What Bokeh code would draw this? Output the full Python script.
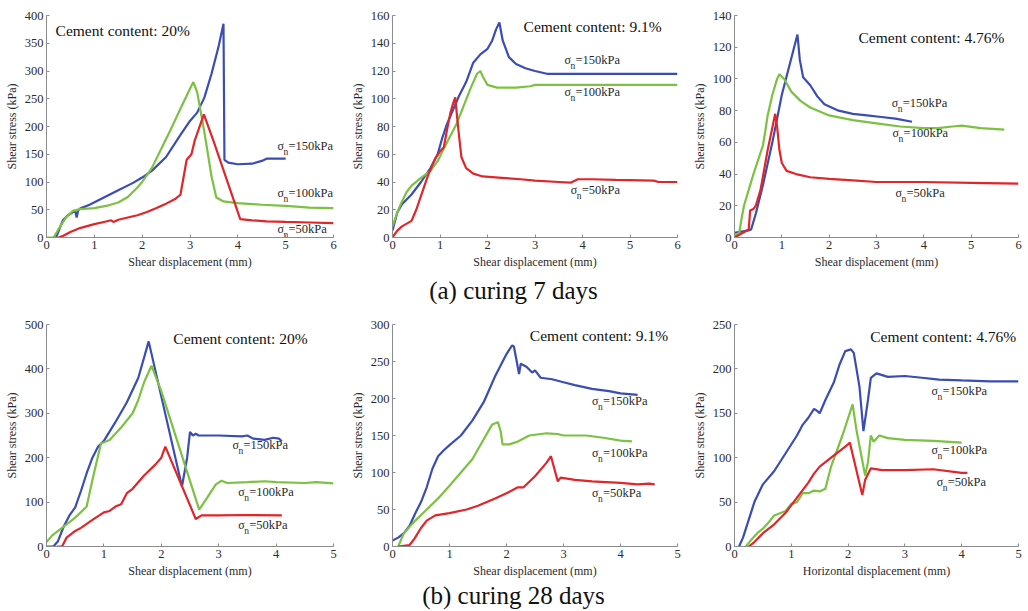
from bokeh.plotting import figure
from bokeh.layouts import column, row
from bokeh.models import Range1d, FixedTicker
from bokeh.core.properties import value
from bokeh.embed import file_html
from bokeh.resources import INLINE

# ---------------- data ----------------
# (a) curing 7 days, cement 20%
a20_x150 = [0.2, 0.3, 0.35, 0.45, 0.6, 0.63, 0.66, 0.7, 0.9, 1.2, 1.5, 1.8, 2.0, 2.2, 2.5, 2.8, 3.0, 3.15, 3.3, 3.45, 3.6, 3.7, 3.72, 3.8, 4.0, 4.3, 4.5, 4.6, 5.0]
a20_y150 = [0, 22, 32, 40, 48, 36, 48, 52, 59, 72, 85, 98, 108, 120, 145, 185, 210, 225, 252, 295, 345, 385, 140, 135, 132, 133, 138, 142, 142]
a20_x100 = [0, 0.15, 0.25, 0.4, 0.55, 0.7, 1.0, 1.3, 1.5, 1.7, 1.9, 2.0, 2.2, 2.4, 2.6, 2.8, 3.0, 3.07, 3.15, 3.3, 3.45, 3.55, 3.7, 4.0, 4.5, 5.0, 5.5, 6.0]
a20_y100 = [0, 0, 15, 35, 48, 51, 53, 58, 63, 73, 90, 100, 125, 160, 195, 232, 268, 280, 262, 190, 110, 72, 65, 62, 59, 57, 54, 53]
a20_x50 = [0.25, 0.35, 0.5, 0.7, 1.0, 1.2, 1.35, 1.4, 1.5, 1.7, 1.9, 2.1, 2.3, 2.5, 2.7, 2.8, 2.93, 3.03, 3.1, 3.29, 3.5, 3.8, 4.05, 4.3, 4.6, 5.0, 5.5, 6.0]
a20_y50 = [0, 3, 10, 17, 24, 28, 31, 28, 32, 36, 40, 46, 53, 61, 70, 77, 140, 150, 175, 222, 172, 96, 33, 31, 29, 28, 27, 26]

# (a) cement 9.1%
a91_x150 = [0, 0.1, 0.2, 0.4, 0.6, 0.8, 0.95, 1.05, 1.15, 1.25, 1.4, 1.55, 1.7, 1.85, 2.0, 2.1, 2.18, 2.25, 2.32, 2.45, 2.6, 2.8, 3.0, 3.25, 4.0, 5.0, 6.0]
a91_y150 = [5, 18, 24, 31, 40, 50, 60, 72, 82, 90, 102, 112, 126, 132, 136, 142, 150, 155, 142, 130, 125, 122, 120, 118, 118, 118, 118]
a91_x100 = [0, 0.1, 0.2, 0.3, 0.42, 0.6, 0.8, 0.95, 1.05, 1.2, 1.35, 1.5, 1.65, 1.78, 1.85, 1.9, 2.0, 2.2, 2.6, 2.9, 3.0, 4.0, 5.0, 6.0]
a91_y100 = [8, 18, 26, 33, 38, 43, 48, 55, 62, 72, 82, 95, 108, 118, 120, 116, 110, 108, 108, 109, 110, 110, 110, 110]
a91_x50 = [0, 0.1, 0.2, 0.4, 0.5, 0.6, 0.75, 0.9, 1.0, 1.08, 1.15, 1.22, 1.28, 1.32, 1.38, 1.45, 1.55, 1.7, 1.9, 2.3, 2.7, 3.0, 3.5, 3.75, 3.9, 4.2, 4.7, 5.5, 5.6, 6.0]
a91_y50 = [0, 5, 8, 12, 20, 30, 45, 57, 62, 65, 78, 90, 97, 101, 80, 58, 50, 46, 44, 43, 42, 41, 40, 39.5, 42, 42, 41.5, 41, 40, 40]

# (a) cement 4.76%
a476_x150 = [0, 0.3, 0.35, 0.45, 0.6, 0.8, 1.0, 1.2, 1.33, 1.38, 1.45, 1.6, 1.75, 1.9, 2.2, 2.5, 2.8, 3.1, 3.4, 3.75]
a476_y150 = [3, 4.5, 5, 15, 33, 60, 90, 113, 128, 112, 101, 96, 89, 84, 80, 78, 77, 76, 75, 73]
a476_x100 = [0, 0.1, 0.15, 0.2, 0.3, 0.4, 0.5, 0.6, 0.65, 0.7, 0.8, 0.9, 0.95, 1.05, 1.2, 1.4, 1.6, 2.0, 2.5, 3.0, 3.5, 4.0, 4.3, 4.6, 4.8, 5.2, 5.7]
a476_y100 = [1, 3, 12, 20, 30, 40, 49, 58, 67, 77, 90, 100, 103, 100, 92, 86, 82, 77, 74, 72, 70, 69, 69, 70, 70.5, 69, 68]
a476_x50 = [0, 0.3, 0.33, 0.4, 0.45, 0.55, 0.7, 0.86, 0.9, 0.95, 1.0, 1.1, 1.3, 1.6, 2.0, 2.5, 3.0, 4.0, 5.0, 6.0]
a476_y50 = [0, 5, 17, 18, 20, 30, 55, 78, 70, 55, 47, 42, 40, 38, 37, 36, 35, 35, 34.5, 34]

# (b) curing 28 days, cement 20%
b20_x150 = [0, 0.12, 0.2, 0.3, 0.4, 0.5, 0.6, 0.7, 0.8, 0.9, 1.0, 1.2, 1.4, 1.6, 1.78, 2.36, 2.45, 2.5, 2.55, 2.6, 2.65, 3.0, 3.4, 3.5, 3.6, 3.8, 3.95, 4.05, 4.1]
b20_y150 = [0, 0, 12, 45, 70, 88, 125, 165, 200, 225, 238, 280, 325, 380, 462, 135, 200, 258, 250, 254, 250, 250, 248, 250, 243, 240, 245, 243, 237]
b20_x100 = [0, 0.1, 0.3, 0.5, 0.7, 0.8, 0.9, 0.95, 1.1, 1.3, 1.5, 1.6, 1.7, 1.83, 2.0, 2.66, 2.8, 2.95, 3.05, 3.15, 3.5, 3.8, 4.0, 4.5, 4.7, 5.0]
b20_y100 = [10, 25, 45, 65, 90, 150, 205, 232, 240, 268, 300, 330, 370, 407, 350, 83, 110, 140, 148, 143, 145, 147, 145, 143, 145, 142]
b20_x50 = [0.18, 0.27, 0.35, 0.5, 0.6, 0.8, 1.0, 1.1, 1.2, 1.3, 1.4, 1.5, 1.7, 1.9, 2.0, 2.07, 2.6, 2.7, 3.0, 3.5, 4.1]
b20_y50 = [0, 0, 20, 35, 42, 60, 77, 80, 90, 95, 120, 130, 160, 185, 200, 225, 62, 70, 70, 71, 70]

# (b) cement 9.1%
b91_x150 = [0, 0.1, 0.2, 0.3, 0.4, 0.5, 0.6, 0.7, 0.8, 0.9, 1.0, 1.2, 1.4, 1.6, 1.8, 2.0, 2.1, 2.13, 2.18, 2.22, 2.25, 2.35, 2.45, 2.5, 2.6, 2.8, 3.0, 3.2, 3.5, 3.8, 4.0, 4.3]
b91_y150 = [8, 12, 18, 28, 45, 60, 80, 105, 122, 130, 137, 150, 170, 195, 230, 260, 272, 270, 250, 233, 247, 243, 235, 238, 228, 226, 222, 218, 213, 210, 207, 205]
b91_x100 = [0.1, 0.2, 0.4, 0.6, 0.8, 1.0, 1.2, 1.4, 1.6, 1.75, 1.85, 1.9, 1.93, 2.05, 2.2, 2.4, 2.7, 2.9, 3.0, 3.4, 3.7, 4.0, 4.2]
b91_y100 = [0, 18, 35, 50, 65, 82, 100, 118, 145, 165, 168, 155, 138, 138, 142, 150, 153, 152, 150, 150, 147, 143, 142]
b91_x50 = [0.1, 0.3, 0.38, 0.5, 0.6, 0.75, 1.0, 1.3, 1.5, 1.8, 2.0, 2.2, 2.3, 2.5, 2.7, 2.78, 2.9, 2.95, 3.2, 3.5, 4.0, 4.3, 4.5, 4.6]
b91_y50 = [0, 2, 10, 25, 35, 42, 45, 50, 55, 65, 72, 80, 80, 95, 113, 122, 88, 93, 90, 88, 86, 84, 85, 84]

# (b) cement 4.76%
b476_x150 = [0.08, 0.15, 0.25, 0.35, 0.5, 0.7, 0.9, 1.1, 1.2, 1.3, 1.4, 1.45, 1.5, 1.6, 1.75, 1.85, 1.95, 2.05, 2.1, 2.2, 2.27, 2.35, 2.4, 2.5, 2.6, 2.7, 3.0, 3.3, 3.6, 4.0, 4.5, 5.0]
b476_y150 = [0, 10, 30, 50, 70, 85, 105, 125, 137, 145, 155, 153, 150, 165, 185, 205, 220, 222, 218, 180, 130, 165, 190, 195, 193, 191, 192, 190, 188, 187, 186, 186]
b476_x100 = [0.2, 0.3, 0.4, 0.5, 0.6, 0.7, 0.9, 1.0, 1.1, 1.2, 1.3, 1.4, 1.5, 1.6, 1.7, 1.9, 2.08, 2.15, 2.3, 2.35, 2.4, 2.45, 2.55, 2.7, 3.0, 3.5, 4.0]
b476_y100 = [0, 8, 15, 20, 27, 35, 40, 48, 50, 60, 60, 63, 62, 65, 90, 125, 160, 130, 80, 95, 125, 118, 125, 122, 120, 119, 117]
b476_x50 = [0.25, 0.35, 0.5, 0.7, 0.9, 1.1, 1.3, 1.4, 1.5, 1.7, 1.9, 2.0, 2.03, 2.25, 2.3, 2.4, 2.6, 3.0, 3.5, 4.0, 4.1]
b476_y50 = [0, 5, 15, 25, 38, 55, 72, 82, 90, 100, 110, 115, 117, 58, 75, 88, 86, 86, 87, 83, 83]

stress_labels = ["=150kPa", "=100kPa", "=50kPa"]
titles = ["Cement content: 20%", "Cement content: 9.1%", "Cement content: 4.76%"]
captions = ["(a) curing 7 days", "(b) curing 28 days"]

# ---------------- styling ----------------
BLUE = "#3a4db3"
GREEN = "#7cc142"
RED = "#e0252b"
FONT = "Liberation Serif"
AXIS_GREY = "#8c8c8c"
TEXT = "#2a2a2a"


def make_panel(width, height, bl, br, bt, bb, xmax, ymax, ystep, xlabel, series,
               title, title_xy, label_pos):
    p = figure(width=width, height=height, x_range=Range1d(0, xmax), y_range=Range1d(0, ymax),
               output_backend="svg", toolbar_location=None,
               min_border_left=bl, min_border_right=br, min_border_top=bt, min_border_bottom=bb)
    p.outline_line_color = None
    p.grid.visible = False
    p.background_fill_color = "white"
    p.border_fill_color = "white"
    p.xaxis.ticker = FixedTicker(ticks=list(range(0, int(xmax) + 1)))
    p.yaxis.ticker = FixedTicker(ticks=list(range(0, int(ymax) + 1, ystep)))
    p.xaxis.axis_label = xlabel
    p.yaxis.axis_label = "Shear stress (kPa)"
    for ax in (p.xaxis[0], p.yaxis[0]):
        ax.axis_line_color = AXIS_GREY
        ax.major_tick_line_color = AXIS_GREY
        ax.minor_tick_line_color = None
        ax.major_tick_in = 3
        ax.major_tick_out = 0
        ax.major_label_text_font = FONT
        ax.major_label_text_font_size = "12.5px"
        ax.major_label_text_color = TEXT
        ax.axis_label_text_font = FONT
        ax.axis_label_text_font_size = "12px"
        ax.axis_label_text_font_style = "normal"
        ax.axis_label_text_color = TEXT
        ax.major_label_standoff = 3
        ax.axis_label_standoff = 3

    colors = [BLUE, GREEN, RED]
    for (xs, ys), c in zip(series, colors):
        p.line(xs, ys, line_color=c, line_width=2.2)

    p.text(x=[title_xy[0]], y=[title_xy[1]], text=[title], text_font=value(FONT),
           text_font_size="15.5px", text_color="#111111", text_baseline="middle", text_align="left")

    fw = width - bl - br
    fh = height - bt - bb
    dxp = xmax / fw
    dyp = ymax / fh
    for (lx, ly), lab in zip(label_pos, stress_labels):
        p.text(x=[lx], y=[ly], text=["σ"], text_font=value(FONT), text_font_size="12px",
               text_color=TEXT, text_baseline="middle", text_align="left")
        p.text(x=[lx + 6 * dxp], y=[ly - 6 * dyp], text=["n"], text_font=value(FONT),
               text_font_size="9.5px", text_color=TEXT, text_baseline="middle", text_align="left")
        p.text(x=[lx + 11 * dxp], y=[ly], text=[lab], text_font=value(FONT), text_font_size="12.5px",
               text_color=TEXT, text_baseline="middle", text_align="left")
    return p


def make_caption(text, width, height, ypos):
    c = figure(width=width, height=height, x_range=Range1d(0, 1), y_range=Range1d(0, 1),
               output_backend="svg", toolbar_location=None,
               min_border_left=0, min_border_right=0, min_border_top=0, min_border_bottom=0)
    c.axis.visible = False
    c.grid.visible = False
    c.outline_line_color = None
    c.text(x=[0.5], y=[ypos], text=[text], text_font=value(FONT), text_font_size="25px",
           text_color="#111111", text_align="center", text_baseline="middle")
    return c


W = 342
TOP_H = 276
BOT_H = 278

p1 = make_panel(W, TOP_H, 46, 9, 15, 39, 6, 400, 50, "Shear displacement (mm)",
                [(a20_x150, a20_y150), (a20_x100, a20_y100), (a20_x50, a20_y50)],
                titles[0], (0.19, 373), [(4.83, 164), (4.83, 80), (4.83, 16)])
p2 = make_panel(W, TOP_H, 50, 7, 15, 39, 6, 160, 20, "Shear displacement (mm)",
                [(a91_x150, a91_y150), (a91_x100, a91_y100), (a91_x50, a91_y50)],
                titles[1], (2.76, 152), [(3.62, 128), (3.62, 105), (3.75, 34)])
p3 = make_panel(W, TOP_H, 50, 8, 15, 39, 6, 140, 20, "Shear displacement (mm)",
                [(a476_x150, a476_y150), (a476_x100, a476_y100), (a476_x50, a476_y50)],
                titles[2], (2.62, 126), [(3.32, 85), (3.34, 66), (3.4, 28)])

p4 = make_panel(W, BOT_H, 46, 9, 20, 36, 5, 500, 100, "Shear displacement (mm)",
                [(b20_x150, b20_y150), (b20_x100, b20_y100), (b20_x50, b20_y50)],
                titles[0], (2.21, 469), [(3.24, 229), (3.34, 123), (3.34, 49)])
p5 = make_panel(W, BOT_H, 50, 7, 20, 36, 5, 300, 50, "Shear displacement (mm)",
                [(b91_x150, b91_y150), (b91_x100, b91_y100), (b91_x50, b91_y50)],
                titles[1], (2.41, 285), [(3.5, 196), (3.5, 126), (3.5, 72)])
p6 = make_panel(W, BOT_H, 50, 8, 20, 36, 5, 250, 50, "Horizontal displacement (mm)",
                [(b476_x150, b476_y150), (b476_x100, b476_y100), (b476_x50, b476_y50)],
                titles[2], (2.39, 236), [(3.47, 175), (3.47, 109), (3.56, 73)])

cap1 = make_caption(captions[0], 3 * W, 28, 0.5)
cap2 = make_caption(captions[1], 3 * W, 28, 0.52)

layout = column(row(p1, p2, p3), cap1, row(p4, p5, p6), cap2)

open("out.html", "w").write(file_html(layout, INLINE))
